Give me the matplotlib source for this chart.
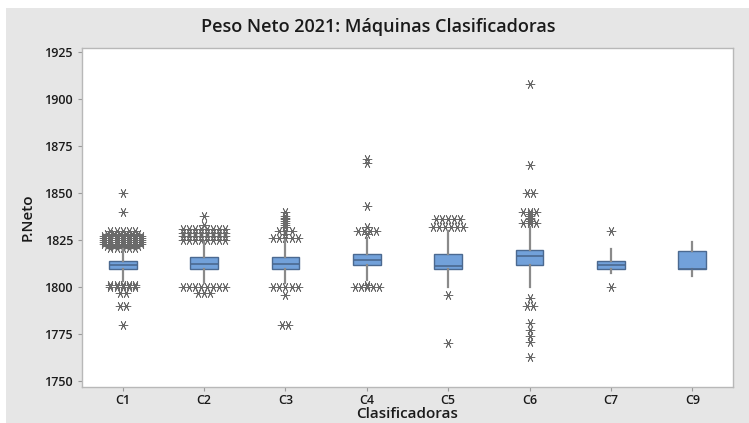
import matplotlib
matplotlib.use("Agg")
import matplotlib.pyplot as plt
from matplotlib.patches import Rectangle
from collections import Counter
import numpy as np

plt.rcParams['font.family'] = ['Open Sans', 'DejaVu Sans']

# Machines
categories = ["C1", "C2", "C3", "C4", "C5", "C6", "C7", "C9"]

# Box statistics per machine
q1 = [1809.4, 1809.8, 1809.5, 1811.7, 1809.5, 1811.7, 1809.4, 1809.4]
medians = [1811.8, 1812.3, 1812.3, 1814.4, 1811.0, 1816.5, 1811.7, 1809.4]
q3 = [1814.0, 1816.0, 1816.0, 1817.6, 1817.6, 1819.7, 1814.0, 1819.4]
whisker_low = [1803.0, 1802.0, 1802.0, 1803.5, 1800.0, 1800.0, 1807.6, 1806.0]
whisker_high = [1820.5, 1824.0, 1825.0, 1826.0, 1830.0, 1832.0, 1820.0, 1824.0]

# Outlying weights per machine
outliers_c1 = ([1850, 1840] + [1830] * 5 + [1828] * 6 + [1827] * 7 + [1826] * 7
               + [1825] * 7 + [1824] * 7 + [1823] * 7 + [1822] * 6 + [1821] * 5
               + [1801] * 5 + [1800] * 5 + [1797] * 2 + [1790] * 2 + [1780])
outliers_c2 = ([1838, 1833] + [1831] * 8 + [1829] * 8 + [1827] * 8 + [1825] * 8
               + [1800] * 8 + [1797] * 3)
outliers_c3 = ([1840, 1838, 1837, 1836, 1835, 1834, 1833, 1832] + [1830] * 3
               + [1828] + [1826] * 5 + [1800] * 5 + [1796] + [1780] * 2)
outliers_c4 = ([1868, 1866, 1843, 1832] + [1830] * 4 + [1828]
               + [1801] + [1800] * 5)
outliers_c5 = [1836] * 5 + [1832] * 6 + [1796, 1770]
outliers_c6 = ([1908, 1865] + [1850] * 2 + [1840] * 3 + [1839, 1838, 1837, 1836, 1835]
               + [1834] * 3 + [1794] + [1790] * 2 + [1781, 1777, 1774, 1771, 1763])
outliers_c7 = [1830, 1800]
outliers_c9 = []

outliers = [outliers_c1, outliers_c2, outliers_c3, outliers_c4,
            outliers_c5, outliers_c6, outliers_c7, outliers_c9]

y_ticks = [1750, 1775, 1800, 1825, 1850, 1875, 1900, 1925]

BG = "#e6e6e6"
BOX_FACE = "#72a1da"
BOX_EDGE = "#4b6990"
WHISKER = "#8a8a8a"
STAR = "#6a6a6a"
TEXT = "#1a1a1a"

fig = plt.figure(figsize=(7.49, 4.23), dpi=100, facecolor="white")
fig.patches.append(Rectangle((6 / 749, 0), 1 - 6 / 749, 1 - 8 / 423,
                             transform=fig.transFigure, facecolor=BG,
                             edgecolor="none", zorder=-10))

ax = fig.add_axes([82 / 749, 1 - 387 / 423, (733 - 82) / 749, (387 - 48) / 423])
ax.set_facecolor("white")

positions = np.arange(1, len(categories) + 1)
stats = []
for i, name in enumerate(categories):
    stats.append(dict(label=name, q1=q1[i], med=medians[i], q3=q3[i],
                      whislo=whisker_low[i], whishi=whisker_high[i], fliers=[]))

ax.bxp(stats, positions=positions, widths=0.34, showfliers=False,
       showcaps=False, patch_artist=True,
       boxprops=dict(facecolor=BOX_FACE, edgecolor=BOX_EDGE, linewidth=1.0),
       medianprops=dict(color=BOX_EDGE, linewidth=1.2),
       whiskerprops=dict(color=WHISKER, linewidth=1.6),
       zorder=3)

# Asterisks for outliers; repeated values are spread side by side
spacing = 0.075
for pos, vals in zip(positions, outliers):
    counts = Counter(vals)
    xs, ys = [], []
    for v, k in counts.items():
        offs = (np.arange(k) - (k - 1) / 2) * spacing
        xs.extend(pos + offs)
        ys.extend([v] * k)
    if xs:
        ax.scatter(xs, ys, marker=(6, 2, 90), s=40, color=STAR,
                   linewidths=0.6, zorder=2)

ax.set_xlim(0.5, len(categories) + 0.5)
ax.set_ylim(1746.8, 1927.2)
ax.set_xticks(positions)
ax.set_xticklabels(categories)
ax.set_yticks(y_ticks)

for sp in ax.spines.values():
    sp.set_color("#b8b8b8")
    sp.set_linewidth(1.0)

ax.tick_params(axis="both", colors="#9a9a9a", length=3, width=0.8,
               labelcolor=TEXT, labelsize=9)
ax.tick_params(axis="x", pad=2)
for lab in ax.get_xticklabels() + ax.get_yticklabels():
    lab.set_fontweight("semibold")

ax.set_xlabel("Clasificadoras", fontsize=11, fontweight="semibold",
              color=TEXT, labelpad=0)
ax.set_ylabel("P.Neto", fontsize=11, fontweight="semibold", color=TEXT,
              labelpad=7)

fig.text(0.505, 1 - 27 / 423, "Peso Neto 2021: Máquinas Clasificadoras",
         ha="center", va="center", fontsize=13, fontweight="semibold",
         color=TEXT)

fig.savefig("out.png", dpi=100, facecolor=fig.get_facecolor())
